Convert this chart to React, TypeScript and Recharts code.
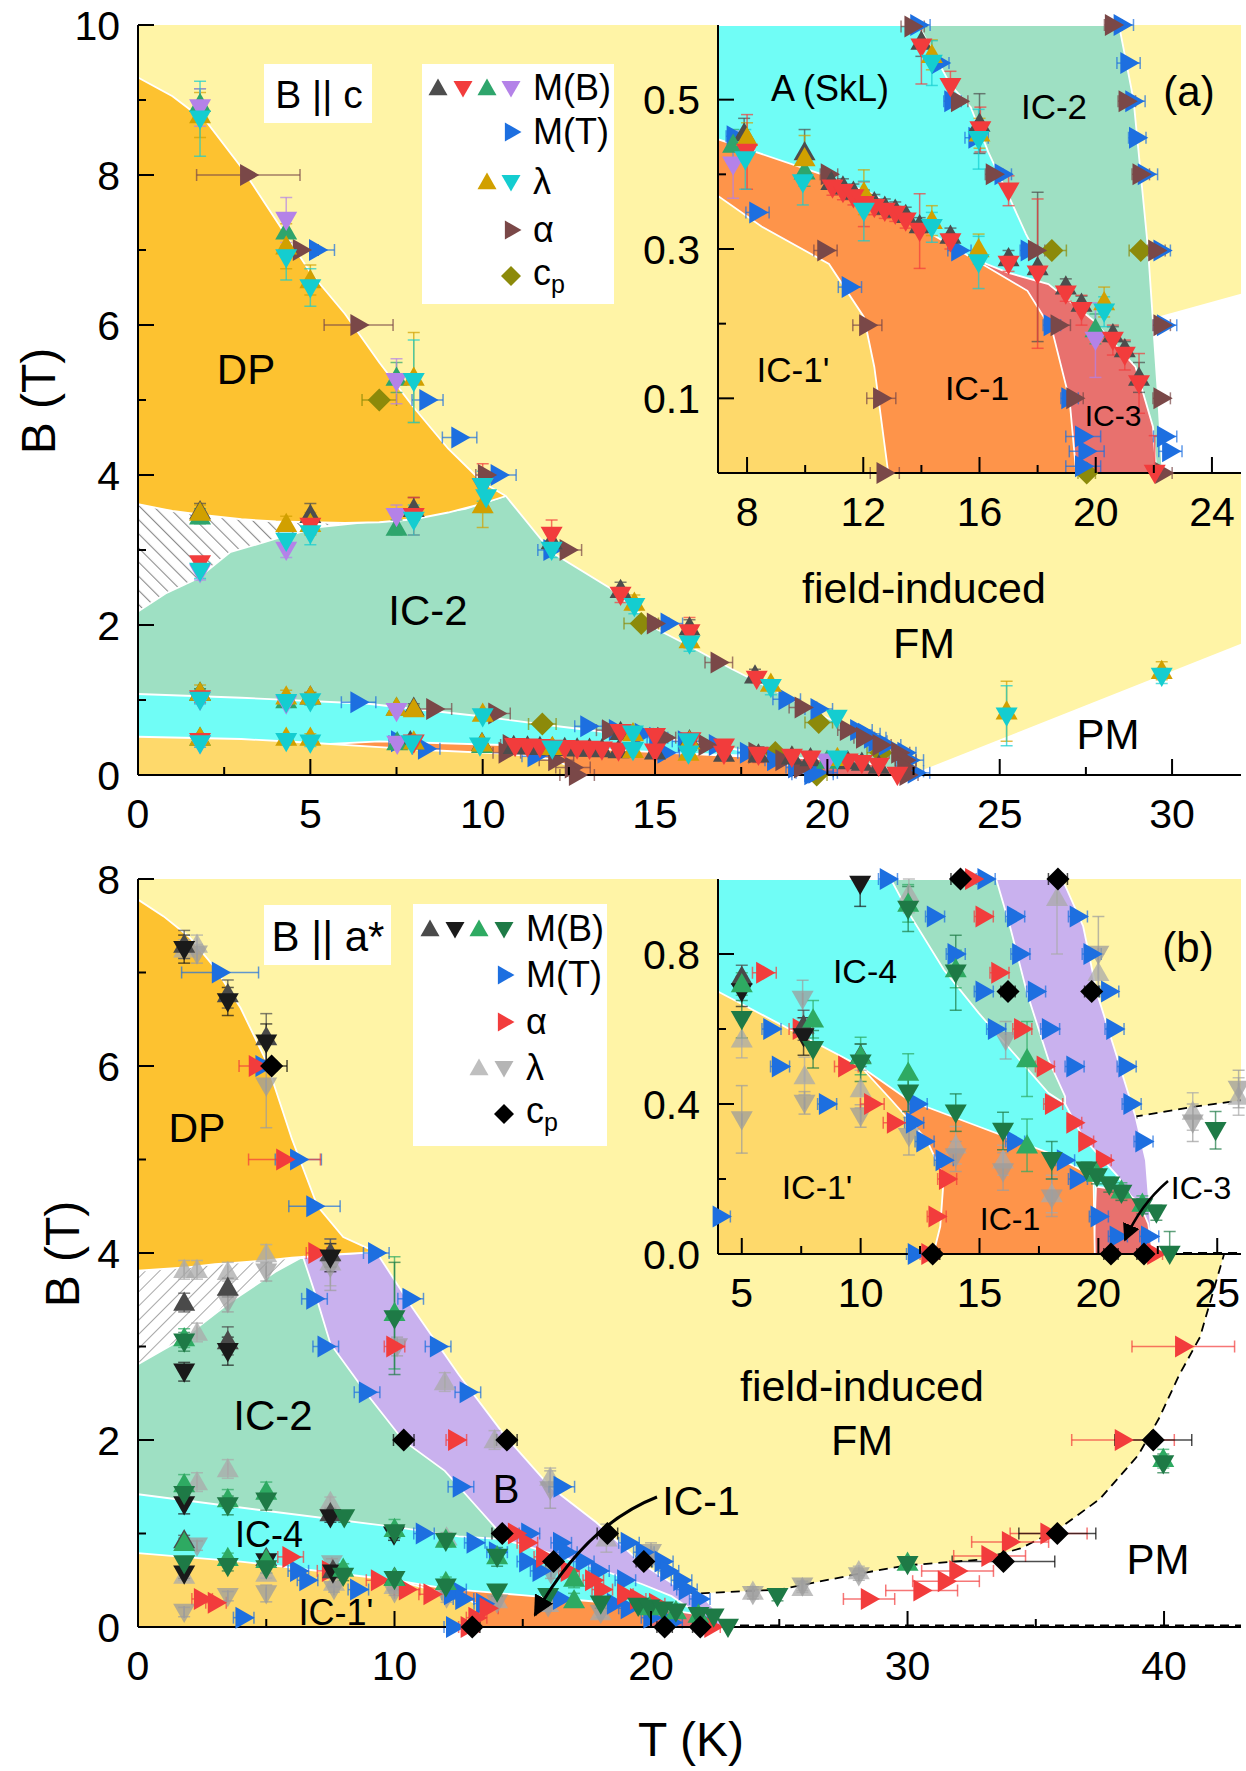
import React from "react";
import {
  ComposedChart,
  Area,
  Line,
  Scatter,
  ErrorBar,
  XAxis,
  YAxis,
  CartesianGrid,
} from "recharts";

const FONT = "Arial, 'Liberation Sans', Helvetica, sans-serif";
const TM = 10; // tick margin used by the custom ticks

// region colours
const COL = {
  fm: "#fff4a6",
  dp: "#fdc230",
  ic2: "#9ee0c3",
  sk: "#70fdf6",
  ic1p: "#fed96b",
  ic1: "#fe944a",
  ic3: "#e8716e",
  bph: "#c9b1ee",
  pm: "#ffffff",
};

// ---------- (a) B || c : phase boundaries [T, B] ----------
const aPmTop = [[22.4, 0], [32, 1.75]];
const aHatchTop = [[0, 3.61], [2, 3.46], [4, 3.38], [6, 3.36], [6.6, 3.36], [6.7, 0]];
const aIc2Top = [[0, 2.18], [0.8, 2.42], [1.73, 2.62], [2.67, 2.97], [4, 3.15], [5.33, 3.31], [8, 3.44], [9.5, 3.55], [10.67, 3.72], [12, 2.97], [13.7, 2.49], [15.07, 1.94], [16, 1.72], [17.2, 1.42], [18.5, 1.12], [20, 0.76], [21, 0.55], [22, 0.28], [22.5, 0]];
const aDpT = [0, 1, 2, 3, 4, 5, 6, 7, 8, 9, 10, 10.67];
const aDpLow = [3.61, 3.52, 3.46, 3.41, 3.38, 3.37, 3.36, 3.37, 3.41, 3.5, 3.62, 3.72];
const aDpHigh = [9.3, 9.05, 8.7, 8.1, 7.4, 6.7, 6.15, 5.5, 4.9, 4.35, 3.9, 3.72];
const aSkTop = [[0, 1.08], [3, 1.03], [6.67, 0.95], [10, 0.78], [12, 0.66], [14.67, 0.51], [16.3, 0.43], [16.9, 0.38], [17.6, 0.32], [18, 0.29], [18.1, 0]];
const aIc3Top = [[15.9, 0], [15.97, 0.284], [17, 0.268], [18.37, 0.253], [19.93, 0.204], [21.37, 0.142], [21.97, 0.062], [22.09, 0]];
const aIc1Top = [[0, 0.4], [5, 0.4], [7, 0.447], [10.58, 0.4], [12.38, 0.373], [14.17, 0.324], [16.09, 0.28], [17.65, 0.244], [18.5, 0.191], [19.1, 0.098], [19.33, 0]];
const aIc1pTop = [[0, 0.51], [3, 0.48], [5, 0.43], [7, 0.371], [8.5, 0.33], [10.82, 0.28], [12.02, 0.209], [12.38, 0.142], [12.86, 0]];
// inset (a)
const aPmInsTop = [[21.5, 0], [21.5, 0.2], [22.2, 0.21], [25, 0.24]];
const aIc2InsTop = [[7, 0.6], [20.8, 0.6], [21.3, 0.5], [21.8, 0.3], [22.15, 0.1], [22.3, 0]];
const aSkInsTop = [[7, 0.6], [13.9, 0.6], [15, 0.52], [15.7, 0.49], [16.3, 0.43], [16.9, 0.38], [17.6, 0.32], [18, 0.29], [18.1, 0]];

// ---------- (a) data points [T, B, dT, dB] ----------
const aMbDark = [[1.8, 3.52, 0, 0.1], [5, 3.47, 0, 0.15], [8, 3.55, 0, 0.15], [12, 3.12, 0, 0.1], [14, 2.47, 0, 0.1], [16, 1.97, 0, 0.1], [17.9, 1.33, 0, 0.08], [1.8, 1.1, 0, 0.05], [5, 1.05, 0, 0.05], [8, 0.9, 0, 0.05], [7.9, 0.455, 0, 0.02], [9.98, 0.43, 0, 0.03], [10.9, 0.39, 0, 0.01], [11.3, 0.384, 0, 0.01], [11.66, 0.377, 0, 0.01], [12.02, 0.369, 0, 0.01], [12.38, 0.363, 0, 0.01], [12.74, 0.357, 0, 0.01], [13.1, 0.353, 0, 0.01], [13.46, 0.346, 0, 0.01], [13.94, 0.332, 0, 0.01], [15, 0.318, 0, 0.01], [14, 0.578, 0, 0.02], [16, 0.468, 0, 0.04], [17, 0.288, 0, 0.01], [18, 0.276, 0, 0.1], [18.97, 0.25, 0, 0.01], [19.51, 0.227, 0, 0.01], [20.59, 0.186, 0, 0.01], [21, 0.166, 0, 0.01], [21.49, 0.128, 0, 0.02]];
const aMbRed = [[1.8, 2.82, 0, 0.05], [5, 3.32, 0, 0.1], [8, 3.45, 0, 0.25], [10, 3.85, 0, 0.3], [12, 3.2, 0, 0.2], [14, 2.4, 0, 0.1], [16, 1.9, 0, 0.2], [17.95, 1.28, 0, 0.05], [1.8, 1.02, 0, 0.05], [1.8, 0.45, 0, 0.05], [8, 0.43, 0, 0.05], [10.94, 0.382, 0, 0.01], [11.3, 0.376, 0, 0.01], [11.66, 0.369, 0, 0.01], [12.02, 0.36, 0, 0.03], [12.38, 0.356, 0, 0.01], [12.74, 0.351, 0, 0.01], [13.1, 0.347, 0, 0.01], [13.46, 0.338, 0, 0.01], [13.94, 0.324, 0, 0.05], [15, 0.31, 0, 0.01], [14, 0.571, 0, 0.05], [15, 0.518, 0, 0.02], [16.03, 0.46, 0, 0.03], [17, 0.378, 0, 0.02], [17, 0.28, 0, 0.01], [18, 0.267, 0, 0.1], [18.97, 0.24, 0, 0.01], [19.51, 0.218, 0, 0.02], [20.59, 0.178, 0, 0.02], [21, 0.158, 0, 0.02], [21.49, 0.12, 0, 0.04], [22.03, 0, 0, 0.05]];
const aMbGreen = [[1.8, 8.95, 0, 0.2], [4.3, 7.25, 0, 0.2], [7.5, 5.3, 0, 0.2], [1.8, 3.45, 0, 0.1], [7.5, 3.3, 0, 0.1], [1.8, 1.1, 0, 0.05], [4.3, 1, 0, 0.05], [7.5, 0.9, 0, 0.05], [1.8, 0.5, 0, 0.03], [7.52, 0.44, 0, 0.02], [9.98, 0.404, 0, 0.02], [19.99, 0.193, 0, 0.02]];
const aMbPurple = [[1.8, 8.9, 0, 0.25], [4.3, 7.4, 0, 0.3], [7.5, 5.25, 0, 0.3], [4.3, 3, 0, 0.1], [7.5, 3.45, 0, 0.15], [1.8, 2.7, 0, 0.1], [1.8, 1, 0, 0.05], [4.3, 0.95, 0, 0.05], [7.5, 0.85, 0, 0.05], [1.8, 0.42, 0, 0.05], [7.52, 0.413, 0, 0.045], [19.99, 0.178, 0, 0.05]];
const aMT = [[5.2, 7, 0.5, 0], [8.4, 5, 0.45, 0], [9.33, 4.5, 0.5, 0], [10.47, 4, 0.5, 0], [12, 3, 0.4, 0], [15.4, 2.02, 0.4, 0], [18.82, 1.01, 0.4, 0], [19.75, 0.88, 0.4, 0], [6.4, 0.97, 0.5, 0], [13.07, 0.65, 0.4, 0], [7.58, 0.451, 0.3, 0], [8.36, 0.349, 0.4, 0], [11.54, 0.249, 0.4, 0], [13.9, 0.6, 0.4, 0], [14.65, 0.549, 0.3, 0], [15.07, 0.498, 0.3, 0], [15.9, 0.449, 0.4, 0], [15.31, 0.298, 0.4, 0], [16.8, 0.4, 0.3, 0], [17.7, 0.298, 0.3, 0], [18.49, 0.198, 0.3, 0], [19.1, 0.1, 0.3, 0], [19.57, 0.049, 0.6, 0], [19.69, 0.029, 0.6, 0], [19.57, 0.009, 0.6, 0], [20.9, 0.6, 0.4, 0], [21.13, 0.549, 0.4, 0], [21.3, 0.498, 0.4, 0], [21.43, 0.449, 0.3, 0], [21.73, 0.4, 0.4, 0], [22.27, 0.298, 0.3, 0], [22.39, 0.198, 0.4, 0], [22.39, 0.049, 0.4, 0], [22.57, 0.029, 0.4, 0]];
const aLamUp = [[1.8, 8.8, 0, 0.3], [4.3, 7.05, 0, 0.3], [5, 6.6, 0, 0.2], [8, 5.3, 0, 0.6], [10, 3.6, 0, 0.3], [1.8, 3.5, 0, 0.1], [4.3, 3.35, 0, 0.1], [5, 3.35, 0, 0.15], [14.4, 2.3, 0, 0.1], [16, 1.8, 0, 0.1], [18.36, 1.22, 0, 0.05], [1.8, 1.1, 0, 0.1], [4.3, 1.05, 0, 0.08], [5, 1.05, 0, 0.05], [7.5, 0.9, 0, 0.05], [8, 0.88, 0, 0.05], [10, 0.82, 0, 0.05], [1.8, 0.5, 0, 0.05], [4.3, 0.5, 0, 0.05], [5, 0.5, 0, 0.05], [25.2, 0.85, 0, 0.4], [29.7, 1.39, 0, 0.12], [8, 0.449, 0, 0.02], [9.98, 0.422, 0, 0.03], [12.02, 0.376, 0, 0.03], [14.36, 0.56, 0, 0.02], [14.36, 0.338, 0, 0.02], [15.97, 0.3, 0, 0.02], [16, 0.455, 0, 0.02], [20.29, 0.229, 0, 0.02]];
const aLamDown = [[1.8, 8.75, 0, 0.5], [4.3, 6.9, 0, 0.3], [5, 6.5, 0, 0.25], [8, 5.25, 0, 0.55], [10, 3.85, 0, 0.2], [10.1, 3.7, 0, 0.2], [4.3, 3.12, 0, 0.1], [5, 3.22, 0, 0.15], [8, 3.4, 0, 0.2], [1.8, 2.72, 0, 0.1], [12, 3, 0, 0.1], [14.4, 2.25, 0, 0.1], [16, 1.75, 0, 0.1], [18.36, 1.17, 0, 0.1], [20.27, 0.76, 0, 0.05], [1.8, 1, 0, 0.05], [4.3, 0.97, 0, 0.05], [5, 0.98, 0, 0.05], [10, 0.78, 0, 0.05], [1.8, 0.42, 0, 0.05], [4.3, 0.45, 0, 0.05], [5, 0.43, 0, 0.05], [25.2, 0.79, 0, 0.4], [29.7, 1.32, 0, 0.1], [7.94, 0.42, 0, 0.04], [9.92, 0.389, 0, 0.03], [12.02, 0.351, 0, 0.04], [14.36, 0.549, 0, 0.03], [14.36, 0.329, 0, 0.02], [15.97, 0.447, 0, 0.04], [15.97, 0.282, 0, 0.035], [20.29, 0.216, 0, 0.02]];
const aAlpha = [[3.2, 8, 1.5, 0], [4.73, 7, 0.5, 0], [6.4, 6, 1, 0], [10.1, 4, 0.3, 0], [12.47, 3, 0.4, 0], [15, 2.02, 0.4, 0], [16.85, 1.5, 0.4, 0], [19.29, 0.9, 0.4, 0], [8.6, 0.88, 0.5, 0], [10.4, 0.82, 0.4, 0], [10.82, 0.4, 0.3, 0], [10.7, 0.298, 0.4, 0], [12.14, 0.198, 0.5, 0], [12.62, 0.1, 0.5, 0], [12.74, 0, 0.5, 0], [13.7, 0.598, 0.4, 0], [15.3, 0.498, 0.3, 0], [16.5, 0.4, 0.3, 0], [17.95, 0.298, 0.3, 0], [18.73, 0.198, 0.4, 0], [19.27, 0.1, 0.3, 0], [20.6, 0.6, 0.3, 0], [21.07, 0.498, 0.3, 0], [21.55, 0.4, 0.3, 0], [22.09, 0.298, 0.3, 0], [22.27, 0.198, 0.3, 0], [22.27, 0.1, 0.3, 0], [22.33, 0, 0.3, 0]];
const aCp = [[7, 5, 0.5, 0], [14.6, 2.02, 0.5, 0], [19.75, 0.7, 0.4, 0], [11.73, 0.68, 0.4, 0], [18.49, 0.298, 0.5, 0], [21.55, 0.298, 0.4, 0], [19.69, 0, 0.3, 0]];

// ---------- (b) B || a* : phase boundaries ----------
const bPmTop = [[21.5, 0], [21.5, 0.36], [21.9, 0.36], [25, 0.4], [28.1, 0.57], [30, 0.66], [32.8, 0.72], [34.4, 0.84], [35.9, 1.05], [37.5, 1.37], [39, 1.84], [39.8, 2.23], [40.6, 2.7], [41.4, 3.1], [42.3, 3.95], [43, 4.6]];
const bBTop = [[0, 3.81], [6.43, 3.96], [9.29, 4.01], [10.71, 3.41], [12.5, 2.7], [14.29, 2.05], [16.07, 1.5], [17.86, 1.12], [19.64, 0.68], [21.43, 0.36], [22.1, 0.3], [22.5, 0.18], [22.8, 0]];
const bHatchTop = [[0, 3.81], [3, 3.88], [6.43, 3.96], [6.5, 0]];
const bDpT = [0, 1, 2, 3, 4, 5, 6, 7, 8, 9.29];
const bDpLow = [3.81, 3.83, 3.85, 3.88, 3.9, 3.92, 3.95, 3.97, 3.99, 4.01];
const bDpHigh = [7.78, 7.6, 7.38, 7.05, 6.62, 6.05, 5.22, 4.5, 4.17, 4.01];
const bIc2Top = [[0, 2.81], [1.79, 3.09], [3.57, 3.47], [5.36, 3.8], [6.43, 3.96], [6.96, 3.52], [7.5, 3.03], [8.93, 2.49], [10.36, 1.99], [11.96, 1.67], [13.39, 1.23], [14.1, 1.01], [14.3, 0]];
const bIc4Top = [[0, 1.42], [5.36, 1.23], [10, 1.07], [12.5, 0.97], [14.2, 0.94], [16.07, 0.79], [17.86, 0.63], [19.64, 0.46], [20.8, 0.33], [21.5, 0.2], [22, 0]];
const bIc3Top = [[19.8, 0], [19.9, 0.18], [21, 0.17], [21.7, 0.14], [22.1, 0.08], [22.3, 0]];
const bIc1Top = [[10, 0.5], [12.03, 0.41], [14.96, 0.34], [17.9, 0.27], [19.4, 0.22], [19.8, 0.19], [19.85, 0]];
const bIc1pTop = [[0, 0.79], [4, 0.7], [10, 0.5], [11.3, 0.41], [12.77, 0.305], [13.5, 0.207], [13.35, 0.074], [13.06, 0]];
const bZeroDash = [[22.3, 0.015], [43, 0.015]];
// inset (b)
const bPmInsTop = [[21.55, 0], [21.6, 0.367], [23.75, 0.39], [26, 0.41]];
const bBInsTop = [[4, 1], [18.48, 1], [19.36, 0.874], [19.94, 0.696], [20.82, 0.518], [21.56, 0.367], [22, 0.25], [22.14, 0.136], [22.29, 0]];
const bIc2InsTop = [[4, 1], [15.7, 1], [16.28, 0.874], [17, 0.696], [17.9, 0.518], [18.6, 0.42], [18.7, 0]];
const bIc4InsTop = [[4, 1], [11.27, 1], [12.03, 0.909], [13.5, 0.758], [14.96, 0.643], [16.43, 0.536], [17.9, 0.429], [18.6, 0.4], [19.36, 0.31], [20.82, 0.207], [21.56, 0.136], [22, 0.05], [22.1, 0]];
const bZeroInsDash = [[22.3, 0.003], [26, 0.003]];

// ---------- (b) data points [T, B, dT, dB] ----------
const bMbDark = [[1.8, 7.3, 0, 0.15], [3.5, 6.77, 0, 0.15], [5, 6.31, 0, 0.25], [7.5, 4, 0, 0.15], [1.8, 3.47, 0, 0.1], [3.5, 3.63, 0, 0.1], [3.5, 3.06, 0, 0.15], [7.5, 1.22, 0, 0.05], [1.8, 0.93, 0, 0.05], [5, 0.74, 0, 0.03], [7.6, 0.61, 0, 0.04], [10, 0.53, 0, 0.03]];
const bMbBlack = [[1.8, 7.25, 0, 0.15], [3.5, 6.69, 0, 0.15], [5, 6.25, 0, 0.2], [7.5, 3.95, 0, 0.15], [1.8, 2.73, 0, 0.1], [3.5, 2.95, 0, 0.15], [1.8, 1.31, 0, 0.1], [1.8, 0.57, 0, 0.05], [7.5, 1.17, 0, 0.05], [9.98, 0.987, 0, 0.06], [5, 0.7, 0, 0.04], [7.6, 0.58, 0, 0.05]];
const bMbGreen = [[1.8, 3.09, 0, 0.1], [1.8, 1.53, 0, 0.1], [3.5, 1.37, 0, 0.1], [5, 1.45, 0, 0.1], [1.8, 0.9, 0, 0.05], [3.5, 0.74, 0, 0.05], [10, 3.36, 0, 0.6], [10, 1.05, 0, 0.1], [30, 0.69, 0, 0.05], [39.97, 1.8, 0, 0.1], [5, 0.72, 0, 0.03], [8, 0.626, 0, 0.05], [10, 0.528, 0, 0.05], [12, 0.935, 0, 0.05], [14, 0.76, 0, 0.05], [12, 0.484, 0, 0.05], [17, 0.52, 0, 0.1], [17, 0.29, 0, 0.07], [19.94, 0.215, 0, 0.02], [20.97, 0.17, 0, 0.02], [21.85, 0.135, 0, 0.02]];
const bMbDkGreen = [[1.8, 3.05, 0, 0.1], [1.8, 1.42, 0, 0.1], [3.5, 1.3, 0, 0.1], [5, 1.35, 0, 0.1], [1.8, 0.68, 0, 0.05], [3.5, 0.65, 0, 0.05], [10, 3.3, 0, 0.6], [8.04, 1.17, 0, 0.05], [10, 1.01, 0, 0.05], [30, 0.67, 0, 0.05], [39.97, 1.75, 0, 0.1], [5, 0.626, 0, 0.05], [8, 0.546, 0, 0.05], [10, 0.51, 0, 0.05], [12, 0.92, 0, 0.06], [12, 0.43, 0, 0.05], [14, 0.75, 0, 0.1], [14, 0.377, 0, 0.05], [15.99, 0.328, 0, 0.05], [18.04, 0.25, 0, 0.05], [19.5, 0.225, 0, 0.02], [19.94, 0.207, 0, 0.02], [20.46, 0.185, 0, 0.02], [20.97, 0.163, 0, 0.02], [21.85, 0.127, 0, 0.02], [22.44, 0.11, 0, 0.02], [23, 0, 0, 0.06], [24.93, 0.33, 0, 0.05]];
const bMT = [[3.2, 7, 1.5, 0], [4.9, 6, 0.5, 0], [6.25, 5, 0.9, 0], [6.88, 4.5, 1, 0], [9.29, 4, 0.5, 0], [6.88, 3.51, 0.5, 0], [10.63, 3.51, 0.5, 0], [7.32, 3, 0.5, 0], [11.7, 3, 0.5, 0], [8.93, 2.51, 0.5, 0], [12.86, 2.51, 0.5, 0], [12.59, 1.5, 0.5, 0], [16.52, 1.5, 0.5, 0], [11.15, 1, 0.4, 0], [15.26, 1, 0.4, 0], [13.13, 0.9, 0.4, 0], [16.5, 0.9, 0.4, 0], [19.14, 0.9, 0.4, 0], [14, 0.8, 0.4, 0], [16.72, 0.8, 0.4, 0], [19.72, 0.8, 0.4, 0], [15.18, 0.7, 0.4, 0], [17.38, 0.7, 0.4, 0], [20.46, 0.7, 0.4, 0], [6.25, 0.6, 0.4, 0], [15.7, 0.6, 0.4, 0], [17.97, 0.6, 0.4, 0], [20.68, 0.6, 0.4, 0], [6.61, 0.5, 0.4, 0], [19, 0.5, 0.4, 0], [21.19, 0.5, 0.4, 0], [8.59, 0.4, 0.4, 0], [12.4, 0.4, 0.4, 0], [21.4, 0.4, 0.4, 0], [12.25, 0.35, 0.4, 0], [12.69, 0.3, 0.4, 0], [16.5, 0.3, 0.4, 0], [21.9, 0.3, 0.4, 0], [13.5, 0.25, 0.4, 0], [18.6, 0.25, 0.4, 0], [19.14, 0.2, 0.4, 0], [4.12, 0.1, 0.4, 0], [20.02, 0.1, 0.4, 0], [20.82, 0.047, 0.4, 0], [22.14, 0.047, 0.4, 0], [12.33, 0, 0.4, 0]];
const bAlpha = [[4.64, 6, 0.7, 0], [5.71, 5, 1.4, 0], [6.96, 4, 0.4, 0], [10, 3, 0.4, 0], [12.41, 2, 0.4, 0], [28.5, 0.3, 1, 0], [30.55, 0.39, 1.4, 0], [31.5, 0.49, 1.3, 0], [31.95, 0.6, 1.4, 0], [33.2, 0.76, 1.4, 0], [34, 0.91, 1.5, 0], [35.5, 1, 1.5, 0], [38.4, 2, 2, 0], [40.75, 3, 2, 0], [2.5, 0.3, 0.4, 0], [3.04, 0.26, 0.4, 0], [5.95, 0.75, 0.5, 0], [7.49, 0.6, 0.5, 0], [9.4, 0.5, 0.5, 0], [10.49, 0.4, 0.5, 0], [11.45, 0.35, 0.5, 0], [13.64, 0.2, 0.4, 0], [13.2, 0.1, 0.4, 0], [12.9, 0, 0.4, 0], [14.74, 1, 0.4, 0], [15.18, 0.9, 0.4, 0], [15.84, 0.75, 0.4, 0], [16.8, 0.6, 0.4, 0], [17.75, 0.5, 0.4, 0], [18.1, 0.4, 0.4, 0], [19, 0.35, 0.3, 0], [19.5, 0.3, 0.3, 0], [20.24, 0.25, 0.3, 0], [22.4, 0, 0.3, 0]];
const bLamUp = [[1.8, 7.25, 0, 0.1], [2.3, 7.3, 0, 0.1], [1.8, 3.82, 0, 0.1], [2.3, 3.82, 0, 0.1], [3.5, 3.8, 0, 0.1], [5, 3.99, 0, 0.1], [2.3, 3.15, 0, 0.1], [7.5, 3.9, 0, 0.25], [11.96, 2.62, 0, 0.1], [13.9, 2, 0, 0.1], [16.07, 1.6, 0, 0.1], [2.3, 1.55, 0, 0.1], [3.5, 1.69, 0, 0.1], [7.5, 1.34, 0, 0.05], [1.8, 0.55, 0, 0.05], [25.9, 0.42, 0, 0.05], [28.1, 0.6, 0, 0.05], [5, 0.573, 0, 0.05], [7.64, 0.475, 0, 0.05], [10, 0.44, 0, 0.05], [12.03, 0.96, 0, 0.05], [14, 0.29, 0, 0.05], [15.99, 0.25, 0, 0.04], [18.04, 0.16, 0, 0.05], [18.26, 0.95, 0, 0.15], [20, 0.75, 0, 0.05], [23.97, 0.38, 0, 0.05]];
const bLamDown = [[2.3, 7.2, 0, 0.1], [3.5, 3.47, 0, 0.1], [5, 3.8, 0, 0.1], [5, 5.79, 0, 0.45], [7.5, 3.85, 0, 0.25], [10.1, 3, 0, 0.1], [16.07, 1.47, 0, 0.2], [2.3, 0.87, 0, 0.05], [1.8, 0.16, 0, 0.05], [3.5, 0.33, 0, 0.05], [28.1, 0.55, 0, 0.05], [5, 0.359, 0, 0.09], [7.56, 0.68, 0, 0.05], [7.64, 0.403, 0, 0.03], [10, 0.368, 0, 0.03], [12.03, 0.314, 0, 0.05], [14, 0.26, 0, 0.04], [15.99, 0.22, 0, 0.05], [16.1, 0.57, 0, 0.05], [18.04, 0.15, 0, 0.05], [20, 0.8, 0, 0.1], [23.97, 0.35, 0, 0.05], [25.9, 0.44, 0, 0.05]];
const bCp = [[5.21, 6, 0.6, 0], [10.36, 2, 0.4, 0], [14.38, 2, 0.4, 0], [14.2, 1, 0.4, 0], [18.3, 1, 0.4, 0], [33.74, 0.7, 2, 0], [35.84, 1, 1.5, 0], [39.58, 2, 1.5, 0], [16.2, 0.7, 0.3, 0], [19.72, 0.7, 0.3, 0], [13.03, 0, 0.3, 0], [20.53, 0, 0.3, 0], [21.92, 0, 0.3, 0]];

// ---------- ticks ----------
const aXTicks = [0, 2.5, 5, 7.5, 10, 12.5, 15, 17.5, 20, 22.5, 25, 27.5, 30];
const aXMajor = [0, 5, 10, 15, 20, 25, 30];
const aYTicks = [0, 1, 2, 3, 4, 5, 6, 7, 8, 9, 10];
const aYMajor = [0, 2, 4, 6, 8, 10];
const aInsXTicks = [8, 10, 12, 14, 16, 18, 20, 22, 24];
const aInsXMajor = [8, 12, 16, 20, 24];
const aInsYTicks = [0.1, 0.2, 0.3, 0.4, 0.5];
const aInsYMajor = [0.1, 0.3, 0.5];
const bXTicks = [0, 5, 10, 15, 20, 25, 30, 35, 40];
const bXMajor = [0, 10, 20, 30, 40];
const bYTicks = [0, 1, 2, 3, 4, 5, 6, 7, 8];
const bYMajor = [0, 2, 4, 6, 8];
const bInsXTicks = [5, 7.5, 10, 12.5, 15, 17.5, 20, 22.5, 25];
const bInsXMajor = [5, 10, 15, 20, 25];
const bInsYTicks = [0, 0.2, 0.4, 0.6, 0.8];
const bInsYMajor = [0, 0.4, 0.8];

const rowsOf = (pts: number[][]) => pts.map(([t, b]) => ({ t, b }));
const rangeOf = (ts: number[], lo: number[], hi: number[]) =>
  ts.map((t, i) => ({ t, r: [lo[i], hi[i]] }));

const clipPts = (pts: number[][], xd: number[], yd: number[]) =>
  pts
    .filter(([t, b]) => t >= xd[0] - 1e-9 && t <= xd[1] + 1e-9 && b >= yd[0] - 1e-9 && b <= yd[1] + 1e-9)
    .map(([t, b, dt = 0, db = 0]) => ({
      t,
      b,
      ex: [Math.min(dt, t - xd[0]), Math.min(dt, xd[1] - t)],
      ey: [Math.min(db, b - yd[0]), Math.min(db, yd[1] - b)],
    }));

function Glyph({ cx, cy, kind, color, op = 1, s = 11 }: any) {
  let pts = "";
  if (kind === "up") pts = `${cx},${cy - s} ${cx + s},${cy + s * 0.75} ${cx - s},${cy + s * 0.75}`;
  else if (kind === "down") pts = `${cx - s},${cy - s * 0.75} ${cx + s},${cy - s * 0.75} ${cx},${cy + s}`;
  else if (kind === "right") pts = `${cx - s * 0.75},${cy - s} ${cx + s},${cy} ${cx - s * 0.75},${cy + s}`;
  else pts = `${cx},${cy - s * 1.05} ${cx + s * 1.05},${cy} ${cx},${cy + s * 1.05} ${cx - s * 1.05},${cy}`;
  return <polygon points={pts} fill={color} fillOpacity={op} />;
}

const fmtInt = (v: number) => String(v);
const fmt1 = (v: number) => v.toFixed(1);

// inward ticks, shorter minor ticks, labels only on majors
const mkTick = (side: string, major: number[], fmt: (v: number) => string) => (p: any) => {
  const v = p.payload.value;
  const big = major.some((m) => Math.abs(m - v) < 1e-6);
  const n = big ? 16 : 8;
  const { x, y } = p;
  const ln = { stroke: "#000", strokeWidth: 2 };
  const txt = { fontSize: 41, fontFamily: FONT, fill: "#000" };
  if (side === "b") {
    const a = y - TM;
    return (
      <g>
        <line x1={x} x2={x} y1={a} y2={a - n} {...ln} />
        {big && <text x={x} y={a + 53} textAnchor="middle" {...txt}>{fmt(v)}</text>}
      </g>
    );
  }
  if (side === "t") {
    const a = y + TM;
    return <line x1={x} x2={x} y1={a} y2={a + n} {...ln} />;
  }
  if (side === "l") {
    const a = x + TM;
    return (
      <g>
        <line x1={a} x2={a + n} y1={y} y2={y} {...ln} />
        {big && <text x={a - 18} y={y} dy="0.36em" textAnchor="end" {...txt}>{fmt(v)}</text>}
      </g>
    );
  }
  const a = x - TM;
  return <line x1={a} x2={a - n} y1={y} y2={y} {...ln} />;
};

type Layer = { rows: any[]; k: string; fill: string; stroke?: string; dash?: string };
type Ser = { pts: number[][]; kind: string; color: string; op?: number };

function Panel(props: any) {
  const { pos, size, margin, xd, yd, xt, yt, xMaj, yMaj, yFmt, inset, layers, lines, series, yW } = props;
  const frame = { stroke: "#000", strokeWidth: 2 };
  const common = { type: "number" as const, allowDataOverflow: true, tickLine: false, tickSize: 0, tickMargin: TM, interval: 0 as const, axisLine: frame };
  return (
    <div style={{ position: "absolute", left: pos[0], top: pos[1] }}>
      <ComposedChart width={size[0]} height={size[1]} margin={margin}>
        <defs>
          <pattern id="hatchA" width="10" height="10" patternUnits="userSpaceOnUse" patternTransform="rotate(-45)">
            <rect width="10" height="10" fill="#fff" />
            <line x1="0" y1="0" x2="0" y2="10" stroke="#8c8c8c" strokeWidth="2.2" />
          </pattern>
          <pattern id="hatchB" width="10" height="10" patternUnits="userSpaceOnUse" patternTransform="rotate(45)">
            <rect width="10" height="10" fill="#fff" />
            <line x1="0" y1="0" x2="0" y2="10" stroke="#a8a8a8" strokeWidth="2" />
          </pattern>
        </defs>
        <CartesianGrid fill={COL.fm} stroke="none" horizontal={false} vertical={false} />
        {layers.map((l: Layer, i: number) => (
          <Area
            key={"a" + i}
            data={l.rows}
            dataKey={l.k}
            type="linear"
            fill={l.fill}
            fillOpacity={1}
            stroke={l.stroke ?? "#ffffff"}
            strokeWidth={l.stroke === "none" ? 0 : 1.8}
            strokeDasharray={l.dash}
            dot={false}
            activeDot={false}
            isAnimationActive={false}
          />
        ))}
        {lines.map((l: number[][], i: number) => (
          <Line
            key={"l" + i}
            data={rowsOf(l)}
            dataKey="b"
            stroke="#000"
            strokeWidth={2}
            strokeDasharray="9 6"
            dot={false}
            activeDot={false}
            isAnimationActive={false}
          />
        ))}
        {series.map((s: Ser, i: number) => (
          <Scatter
            key={"s" + i}
            xAxisId="s"
            yAxisId="s"
            data={clipPts(s.pts, xd, yd)}
            isAnimationActive={false}
            shape={(sp: any) => <Glyph cx={sp.cx} cy={sp.cy} kind={s.kind} color={s.color} op={s.op ?? 1} />}
          >
            <ErrorBar dataKey="ex" direction="x" stroke={s.color} strokeOpacity={0.7} strokeWidth={1.5} width={6} />
            <ErrorBar dataKey="ey" direction="y" stroke={s.color} strokeOpacity={0.7} strokeWidth={1.5} width={6} />
          </Scatter>
        ))}
        <XAxis xAxisId={0} dataKey="t" domain={xd} ticks={xt} height={60} tick={mkTick("b", xMaj, fmtInt)} {...common} />
        <XAxis xAxisId="top" orientation="top" domain={xd} ticks={xt} height={0} tick={inset ? mkTick("t", xMaj, fmtInt) : false} {...common} />
        <YAxis yAxisId={0} domain={yd} ticks={yt} width={yW} tick={mkTick("l", yMaj, yFmt)} {...common} />
        <YAxis yAxisId="right" orientation="right" domain={yd} ticks={yt} width={0} tick={inset ? mkTick("r", yMaj, yFmt) : false} {...common} />
        <XAxis xAxisId="s" dataKey="t" type="number" domain={xd} hide />
        <YAxis yAxisId="s" dataKey="b" type="number" domain={yd} hide />
      </ComposedChart>
    </div>
  );
}

const serA: Ser[] = [
  { pts: aCp, kind: "diamond", color: "#8c8a0a" },
  { pts: aMT, kind: "right", color: "#1d6fe0" },
  { pts: aAlpha, kind: "right", color: "#7a4848" },
  { pts: aMbDark, kind: "up", color: "#4d4d4d" },
  { pts: aMbGreen, kind: "up", color: "#2ea56c" },
  { pts: aLamUp, kind: "up", color: "#d1a000" },
  { pts: aMbPurple, kind: "down", color: "#b482e8" },
  { pts: aMbRed, kind: "down", color: "#f23c3c" },
  { pts: aLamDown, kind: "down", color: "#14cdd0" },
];
const serB: Ser[] = [
  { pts: bLamUp, kind: "up", color: "#a9a9a9", op: 0.75 },
  { pts: bLamDown, kind: "down", color: "#9c9c9c", op: 0.75 },
  { pts: bMT, kind: "right", color: "#1d6fe0" },
  { pts: bAlpha, kind: "right", color: "#f23c3c" },
  { pts: bMbDark, kind: "up", color: "#4a4a4a" },
  { pts: bMbBlack, kind: "down", color: "#1a1a1a" },
  { pts: bMbGreen, kind: "up", color: "#2eaa62" },
  { pts: bMbDkGreen, kind: "down", color: "#1e7a46" },
  { pts: bCp, kind: "diamond", color: "#000000" },
];

const layersA: Layer[] = [
  { rows: rowsOf(aPmTop), k: "b", fill: COL.pm, stroke: "none" },
  { rows: rowsOf(aHatchTop), k: "b", fill: "url(#hatchA)", stroke: "none" },
  { rows: rowsOf(aIc2Top), k: "b", fill: COL.ic2 },
  { rows: rangeOf(aDpT, aDpLow, aDpHigh), k: "r", fill: COL.dp },
  { rows: rowsOf(aSkTop), k: "b", fill: COL.sk },
  { rows: rowsOf(aIc3Top), k: "b", fill: COL.ic3 },
  { rows: rowsOf(aIc1Top), k: "b", fill: COL.ic1 },
  { rows: rowsOf(aIc1pTop), k: "b", fill: COL.ic1p },
];
const layersAIns: Layer[] = [
  { rows: rowsOf(aPmInsTop), k: "b", fill: COL.pm, stroke: "none" },
  { rows: rowsOf(aIc2InsTop), k: "b", fill: COL.ic2 },
  { rows: rowsOf(aSkInsTop), k: "b", fill: COL.sk },
  { rows: rowsOf(aIc3Top), k: "b", fill: COL.ic3 },
  { rows: rowsOf(aIc1Top), k: "b", fill: COL.ic1 },
  { rows: rowsOf(aIc1pTop), k: "b", fill: COL.ic1p },
];
const layersB: Layer[] = [
  { rows: rowsOf(bPmTop), k: "b", fill: COL.pm, stroke: "#000", dash: "9 6" },
  { rows: rowsOf(bBTop), k: "b", fill: COL.bph },
  { rows: rowsOf(bHatchTop), k: "b", fill: "url(#hatchB)", stroke: "none" },
  { rows: rangeOf(bDpT, bDpLow, bDpHigh), k: "r", fill: COL.dp },
  { rows: rowsOf(bIc2Top), k: "b", fill: COL.ic2 },
  { rows: rowsOf(bIc4Top), k: "b", fill: COL.sk },
  { rows: rowsOf(bIc3Top), k: "b", fill: COL.ic3 },
  { rows: rowsOf(bIc1Top), k: "b", fill: COL.ic1 },
  { rows: rowsOf(bIc1pTop), k: "b", fill: COL.ic1p },
];
const layersBIns: Layer[] = [
  { rows: rowsOf(bPmInsTop), k: "b", fill: COL.pm, stroke: "#000", dash: "9 6" },
  { rows: rowsOf(bBInsTop), k: "b", fill: COL.bph },
  { rows: rowsOf(bIc2InsTop), k: "b", fill: COL.ic2 },
  { rows: rowsOf(bIc4InsTop), k: "b", fill: COL.sk },
  { rows: rowsOf(bIc3Top), k: "b", fill: COL.ic3 },
  { rows: rowsOf(bIc1Top), k: "b", fill: COL.ic1 },
  { rows: rowsOf(bIc1pTop), k: "b", fill: COL.ic1p },
];

function Txt({ x, y, s, children, rot }: any) {
  return (
    <div
      style={{
        position: "absolute",
        left: x,
        top: y,
        transform: `translate(-50%, -50%)${rot ? " rotate(-90deg)" : ""}`,
        fontSize: s,
        lineHeight: 1,
        whiteSpace: "nowrap",
        fontFamily: FONT,
        color: "#000",
      }}
    >
      {children}
    </div>
  );
}

function LegendBox({ box, rows, textX }: any) {
  return (
    <>
      <div style={{ position: "absolute", left: box[0], top: box[1], width: box[2], height: box[3], background: "#fff" }} />
      {rows.map((r: any, i: number) => (
        <React.Fragment key={i}>
          {r.g.map((g: any, j: number) => (
            <svg key={j} width={24} height={24} style={{ position: "absolute", left: g[0] - 12, top: r.y - 12 }}>
              <Glyph cx={12} cy={12} kind={g[1]} color={g[2]} op={g[3] ?? 1} s={9.5} />
            </svg>
          ))}
          <div style={{ position: "absolute", left: textX, top: r.y, transform: "translateY(-50%)", fontSize: 36, lineHeight: 1, fontFamily: FONT, whiteSpace: "nowrap" }}>
            {r.t}
          </div>
        </React.Fragment>
      ))}
    </>
  );
}

const cp = (
  <span>
    c<sub style={{ fontSize: 25, verticalAlign: "-0.35em" }}>p</sub>
  </span>
);

export default function App() {
  return (
    <div style={{ position: "absolute", left: 0, top: 0, width: 1246, height: 1771, background: "#fff", overflow: "hidden", fontFamily: FONT }}>
      <Panel
        pos={[0, 0]} size={[1246, 860]} margin={{ top: 25, right: 5, left: 38, bottom: 25 }} yW={100}
        xd={[0, 32]} yd={[0, 10]} xt={aXTicks} yt={aYTicks} xMaj={aXMajor} yMaj={aYMajor} yFmt={fmtInt}
        inset={false} layers={layersA} lines={[]} series={serA}
      />
      <Panel
        pos={[0, 850]} size={[1246, 921]} margin={{ top: 29, right: 5, left: 38, bottom: 84 }} yW={100}
        xd={[0, 43]} yd={[0, 8]} xt={bXTicks} yt={bYTicks} xMaj={bXMajor} yMaj={bYMajor} yFmt={fmtInt}
        inset={false} layers={layersB} lines={[bZeroDash]} series={serB}
      />
      <Panel
        pos={[618, 0]} size={[628, 560]} margin={{ top: 25, right: 5, left: 20, bottom: 27 }} yW={80}
        xd={[7, 25]} yd={[0, 0.6]} xt={aInsXTicks} yt={aInsYTicks} xMaj={aInsXMajor} yMaj={aInsYMajor} yFmt={fmt1}
        inset={true} layers={layersAIns} lines={[]} series={serA}
      />
      <Panel
        pos={[618, 850]} size={[628, 480]} margin={{ top: 29, right: 5, left: 20, bottom: 16 }} yW={80}
        xd={[4, 26]} yd={[0, 1]} xt={bInsXTicks} yt={bInsYTicks} xMaj={bInsXMajor} yMaj={bInsYMajor} yFmt={fmt1}
        inset={true} layers={layersBIns} lines={[bZeroInsDash]} series={serB}
      />

      {/* legends and boxed labels */}
      <div style={{ position: "absolute", left: 264, top: 64, width: 108, height: 59, background: "#fff" }} />
      <Txt x={319} y={94} s={39}>B || c</Txt>
      <LegendBox
        box={[422, 64, 192, 240]}
        textX={533}
        rows={[
          { y: 88, g: [[438, "up", "#4d4d4d"], [463, "down", "#f23c3c"], [487, "up", "#2ea56c"], [511, "down", "#b482e8"]], t: "M(B)" },
          { y: 132, g: [[512, "right", "#1d6fe0"]], t: "M(T)" },
          { y: 182, g: [[487, "up", "#d1a000"], [511, "down", "#14cdd0"]], t: "λ" },
          { y: 230, g: [[512, "right", "#7a4848"]], t: "α" },
          { y: 276, g: [[511, "diamond", "#8c8a0a"]], t: cp },
        ]}
      />
      <div style={{ position: "absolute", left: 264, top: 905, width: 127, height: 60, background: "#fff" }} />
      <Txt x={328} y={937} s={42}>B || a*</Txt>
      <LegendBox
        box={[413, 904, 194, 242]}
        textX={526}
        rows={[
          { y: 929, g: [[430, "up", "#4a4a4a"], [455, "down", "#1a1a1a"], [479, "up", "#2eaa62"], [504, "down", "#1e7a46"]], t: "M(B)" },
          { y: 975, g: [[505, "right", "#1d6fe0"]], t: "M(T)" },
          { y: 1022, g: [[505, "right", "#f23c3c"]], t: "α" },
          { y: 1068, g: [[479, "up", "#a9a9a9", 0.75], [504, "down", "#9c9c9c", 0.75]], t: "λ" },
          { y: 1114, g: [[504, "diamond", "#000"]], t: cp },
        ]}
      />

      {/* region labels, panel (a) */}
      <Txt x={246} y={370} s={42}>DP</Txt>
      <Txt x={428} y={611} s={42}>IC-2</Txt>
      <Txt x={924} y={588} s={43}>field-induced</Txt>
      <Txt x={924} y={643} s={43}>FM</Txt>
      <Txt x={1108} y={735} s={42}>PM</Txt>
      <Txt x={830} y={89} s={36}>A (SkL)</Txt>
      <Txt x={1054} y={106} s={35}>IC-2</Txt>
      <Txt x={1189} y={92} s={42}>(a)</Txt>
      <Txt x={793} y={369} s={35}>IC-1'</Txt>
      <Txt x={977} y={388} s={34}>IC-1</Txt>
      <Txt x={1113} y={416} s={30}>IC-3</Txt>

      {/* region labels, panel (b) */}
      <Txt x={197} y={1128} s={41}>DP</Txt>
      <Txt x={273} y={1416} s={42}>IC-2</Txt>
      <Txt x={269} y={1535} s={36}>IC-4</Txt>
      <Txt x={506} y={1489} s={40}>B</Txt>
      <Txt x={336} y={1613} s={36}>IC-1'</Txt>
      <Txt x={701} y={1501} s={41}>IC-1</Txt>
      <Txt x={862} y={1386} s={43}>field-induced</Txt>
      <Txt x={862} y={1440} s={43}>FM</Txt>
      <Txt x={1158} y={1560} s={42}>PM</Txt>
      <Txt x={865} y={971} s={34}>IC-4</Txt>
      <Txt x={1188} y={948} s={42}>(b)</Txt>
      <Txt x={817} y={1187} s={34}>IC-1'</Txt>
      <Txt x={1010} y={1219} s={32}>IC-1</Txt>
      <Txt x={1201} y={1188} s={32}>IC-3</Txt>

      {/* axis titles */}
      <Txt x={39} y={401} s={48} rot>B (T)</Txt>
      <Txt x={63} y={1254} s={48} rot>B (T)</Txt>
      <Txt x={691} y={1740} s={48}>T (K)</Txt>

      {/* annotation arrows */}
      <svg width={1246} height={1771} style={{ position: "absolute", left: 0, top: 0, pointerEvents: "none" }}>
        <defs>
          <marker id="ah" viewBox="0 0 10 10" refX="9" refY="5" markerWidth="7" markerHeight="7" orient="auto-start-reverse">
            <path d="M0,0 L10,5 L0,10 z" fill="#000" />
          </marker>
        </defs>
        <path d="M657,1497 Q585,1525 535,1615" fill="none" stroke="#000" strokeWidth={3} markerEnd="url(#ah)" />
        <path d="M1168,1181 Q1140,1205 1125,1240" fill="none" stroke="#000" strokeWidth={2.5} markerEnd="url(#ah)" />
      </svg>
    </div>
  );
}
